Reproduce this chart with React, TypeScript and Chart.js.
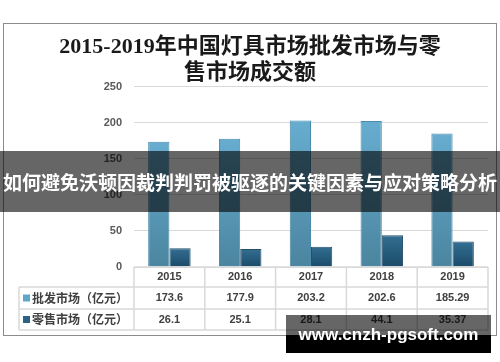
import React, { useEffect, useRef } from "react";
import { Chart, registerables } from "chart.js";

Chart.register(...registerables);

const titleLines = ["2015-2019年中国灯具市场批发市场与零", "售市场成交额"];
const categories = ["2015", "2016", "2017", "2018", "2019"];
const wholesale = [173.6, 177.9, 203.2, 202.6, 185.29];
const retail = [26.1, 25.1, 28.1, 44.1, 35.37];
const seriesNames = ["批发市场（亿元）", "零售市场（亿元）"];
const yMin = 0;
const yMax = 250;
const yStep = 50;
const bannerText = "如何避免沃顿因裁判判罚被驱逐的关键因素与应对策略分析";
const watermarkText = "www.cnzh-pgsoft.com";

const WHOLESALE_COLOR = "#5fa7c8";
const RETAIL_COLOR = "#2a6386";

function barGradient(top: string, bottom: string) {
  return (ctx: any) => {
    const chart = ctx.chart;
    const area = chart.chartArea;
    if (!area || ctx.raw == null) return top;
    const y = chart.scales.y.getPixelForValue(ctx.raw);
    const g = chart.ctx.createLinearGradient(0, y, 0, area.bottom);
    g.addColorStop(0, top);
    g.addColorStop(1, bottom);
    return g;
  };
}

const tablePlugin = {
  id: "dataTable",
  afterDraw(chart: any) {
    const c = chart.ctx;
    const x = chart.scales.x;
    const area = chart.chartArea;
    const n = categories.length;
    const cw = (x.right - x.left) / n;
    const rowY = [area.bottom, area.bottom + 20, area.bottom + 42, area.bottom + 63];
    const labelLeft = 19;
    c.save();
    c.strokeStyle = "#d9d9d9";
    c.lineWidth = 1.5;
    c.beginPath();
    c.moveTo(x.left, rowY[0]);
    c.lineTo(x.right, rowY[0]);
    for (let r = 1; r < rowY.length; r++) {
      c.moveTo(labelLeft, rowY[r]);
      c.lineTo(x.right, rowY[r]);
    }
    for (let i = 0; i <= n; i++) {
      const bx = x.left + cw * i;
      c.moveTo(bx, rowY[0]);
      c.lineTo(bx, rowY[3]);
    }
    c.moveTo(labelLeft, rowY[1]);
    c.lineTo(labelLeft, rowY[3]);
    c.stroke();

    c.fillStyle = "#404040";
    c.textAlign = "center";
    c.textBaseline = "middle";
    c.font = 'bold 11px "Liberation Sans", "Noto Sans CJK SC", sans-serif';
    const rows = [wholesale, retail];
    categories.forEach((cat, i) => {
      const cx = x.getPixelForValue(i);
      c.fillText(cat, cx, (rowY[0] + rowY[1]) / 2);
      rows.forEach((vals, r) => {
        c.fillText(String(vals[i]), cx, (rowY[r + 1] + rowY[r + 2]) / 2);
      });
    });

    const colors = [WHOLESALE_COLOR, RETAIL_COLOR];
    seriesNames.forEach((name, r) => {
      const cy = (rowY[r + 1] + rowY[r + 2]) / 2;
      c.fillStyle = colors[r];
      c.fillRect(labelLeft + 4, cy - 3.5, 7, 7);
      c.fillStyle = "#404040";
      c.textAlign = "left";
      c.font = 'bold 12px "Noto Sans CJK SC", sans-serif';
      c.fillText(name, labelLeft + 13, cy);
    });
    c.restore();
  },
};

export default function App() {
  const canvasRef = useRef<HTMLCanvasElement | null>(null);

  useEffect(() => {
    const canvas = canvasRef.current;
    if (!canvas) return;
    const chart = new Chart(canvas, {
      type: "bar",
      data: {
        labels: categories,
        datasets: [
          {
            label: seriesNames[0],
            data: wholesale,
            backgroundColor: barGradient("#67add0", "#4b859f"),
            borderColor: "#4a8aaa",
            borderWidth: 1,
            categoryPercentage: 0.6,
            barPercentage: 1,
          },
          {
            label: seriesNames[1],
            data: retail,
            backgroundColor: barGradient("#336e92", "#1b4b68"),
            borderColor: "#264f6a",
            borderWidth: 1,
            categoryPercentage: 0.6,
            barPercentage: 1,
          },
        ],
      },
      options: {
        responsive: false,
        animation: false,
        layout: { padding: { top: 0, left: 0, right: 0, bottom: 95 } },
        plugins: {
          legend: { display: false },
          tooltip: { enabled: false },
          title: {
            display: true,
            text: titleLines,
            color: "#1a1a1a",
            font: {
              size: 22,
              weight: "bold",
              family: '"Liberation Serif", "Noto Sans CJK SC", serif',
              lineHeight: 1.2,
            },
            padding: { top: 34, bottom: 0 },
          },
        },
        scales: {
          x: { display: false },
          y: {
            min: yMin,
            max: yMax,
            ticks: {
              stepSize: yStep,
              padding: 12,
              color: "#595959",
              font: { size: 11, weight: "bold", family: '"Liberation Sans", sans-serif' },
            },
            grid: { color: "#d9d9d9", lineWidth: 1, drawTicks: false },
            border: { display: false },
            afterFit: (s: any) => {
              s.width = 134;
            },
          },
          yRight: {
            position: "right",
            display: true,
            ticks: { display: false },
            grid: { display: false, drawTicks: false },
            border: { display: false },
            afterFit: (s: any) => {
              s.width = 12;
            },
          },
        },
      } as any,
      plugins: [tablePlugin],
    });
    return () => chart.destroy();
  }, []);

  return (
    <div style={{ position: "absolute", left: 0, top: 0, width: 500, height: 362, background: "#fff", overflow: "hidden" }}>
      <canvas ref={canvasRef} width={500} height={362} style={{ position: "absolute", left: 0, top: 0, width: 500, height: 362 }} />
      <div
        style={{
          position: "absolute",
          left: 3,
          top: 23,
          width: 494,
          height: 313,
          border: "1.5px solid #8c8c8c",
          boxSizing: "border-box",
          pointerEvents: "none",
        }}
      />
      <div
        style={{
          position: "absolute",
          left: 0,
          top: 151,
          width: 500,
          height: 61,
          background: "rgba(0,0,0,0.6)",
          color: "#fff",
          font: 'bold 19px "Noto Sans CJK SC", sans-serif',
          lineHeight: "61px",
          textAlign: "center",
          whiteSpace: "nowrap",
          overflow: "hidden",
        }}
      >
        {bannerText}
      </div>
      <div style={{ position: "absolute", left: 286, top: 315, width: 205, height: 38, background: "rgba(0,0,0,0.6)" }} />
      <div style={{ position: "absolute", left: 286, top: 335, width: 205, height: 18, background: "#000" }} />
      <div
        style={{
          position: "absolute",
          left: 286,
          top: 325,
          width: 205,
          height: 24,
          lineHeight: "24px",
          color: "#fff",
          font: 'bold 17px "Liberation Sans", sans-serif',
          textAlign: "center",
          whiteSpace: "nowrap",
        }}
      >
        {watermarkText}
      </div>
    </div>
  );
}
